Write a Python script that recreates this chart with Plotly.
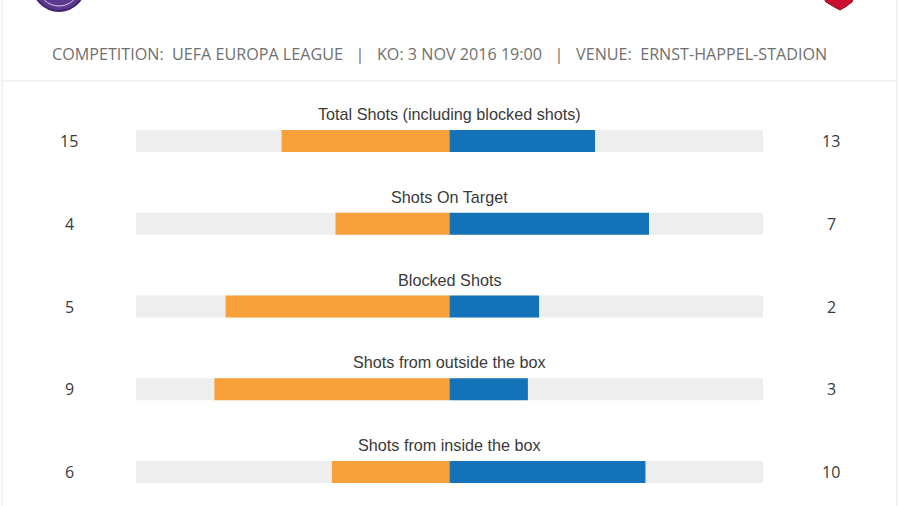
import plotly.graph_objects as go

categories = ["Total Shots (including blocked shots)", "Shots On Target", "Blocked Shots",
              "Shots from outside the box", "Shots from inside the box"]
home_values = [15, 4, 5, 9, 6]
away_values = [13, 7, 2, 3, 10]
header_text = "COMPETITION:  UEFA EUROPA LEAGUE   |   KO: 3 NOV 2016 19:00   |   VENUE:  ERNST-HAPPEL-STADION"

W, H = 900, 506
ORANGE = "#F8A13B"
BLUE = "#1472B9"
GREY = "#EEEEEE"

rows = list(range(len(categories)))
home_frac = [-h / (h + a) for h, a in zip(home_values, away_values)]
away_frac = [a / (h + a) for h, a in zip(home_values, away_values)]

# pixel geometry
row0_px, row_step = 141, 82.75
r_top = -row0_px / row_step
r_bot = (H - row0_px) / row_step
bar_w = 22 / row_step
label_off = 27 / row_step

fig = go.Figure()
fig.add_trace(go.Bar(y=rows, x=[2] * len(rows), base=[-1] * len(rows), orientation="h",
                     marker=dict(color=GREY, line=dict(width=0)), width=bar_w, hoverinfo="skip"))
fig.add_trace(go.Bar(y=rows, x=home_frac, base=[0] * len(rows), orientation="h",
                     marker=dict(color=ORANGE, line=dict(width=0)), width=bar_w, hoverinfo="skip"))
fig.add_trace(go.Bar(y=rows, x=away_frac, base=[0] * len(rows), orientation="h",
                     marker=dict(color=BLUE, line=dict(width=0)), width=bar_w, hoverinfo="skip"))

annotations = []
for r, cat, h, a in zip(rows, categories, home_values, away_values):
    annotations.append(dict(x=0, y=r - label_off, xref="x", yref="y", text=cat, showarrow=False,
                            font=dict(family="Liberation Sans, Arial", size=16.2, color="#3A3A3A"),
                            xanchor="center", yanchor="middle"))
    annotations.append(dict(x=69 / W, y=r, xref="paper", yref="y", text=str(h), showarrow=False,
                            font=dict(family="Open Sans", size=16, color="#3A3A3A"),
                            xanchor="center", yanchor="middle"))
    annotations.append(dict(x=831 / W, y=r, xref="paper", yref="y", text=str(a), showarrow=False,
                            font=dict(family="Open Sans", size=16, color="#3A3A3A"),
                            xanchor="center", yanchor="middle"))
annotations.append(dict(x=0.5 - 11 / W, y=1 - 54 / H, xref="paper", yref="paper", text=header_text,
                        showarrow=False, font=dict(family="Open Sans", size=16.15, color="#707070"),
                        xanchor="center", yanchor="middle"))

shapes = [
    dict(type="line", xref="paper", yref="paper", x0=2 / W, x1=897 / W, y0=1 - 81 / H, y1=1 - 81 / H,
         line=dict(color="#E6E6E6", width=1)),
    dict(type="line", xref="paper", yref="paper", x0=2 / W, x1=2 / W, y0=0, y1=1,
         line=dict(color="#E6E6E6", width=1)),
    dict(type="line", xref="paper", yref="paper", x0=897 / W, x1=897 / W, y0=0, y1=1,
         line=dict(color="#E6E6E6", width=1)),
    # home crest (partially cut)
    dict(type="circle", xref="paper", yref="paper", x0=33 / W, x1=85 / W, y0=1 - 11 / H, y1=1 + 41 / H,
         fillcolor="#5B3A8E", line=dict(color="#3E2470", width=2)),
    dict(type="circle", xref="paper", yref="paper", x0=38 / W, x1=80 / W, y0=1 - 6 / H, y1=1 + 36 / H,
         fillcolor="rgba(0,0,0,0)", line=dict(color="#D8CCEA", width=1)),
    # away crest (partially cut)
    dict(type="path", xref="paper", yref="paper",
         path=f"M {822/W} {1+5/H} L {855/W} {1+5/H} L {852/W} {1-2/H} Q {846/W} {1-7/H} {840/W} {1-10/H} Q {834/W} {1-7/H} {826/W} {1-2/H} Z",
         fillcolor="#C8102E", line=dict(color="#8A0A1E", width=1)),
]

fig.update_layout(
    width=W, height=H, margin=dict(l=0, r=0, t=0, b=0),
    paper_bgcolor="white", plot_bgcolor="white",
    barmode="overlay", showlegend=False,
    xaxis=dict(domain=[136 / W, 763 / W], range=[-1, 1], visible=False, fixedrange=True),
    yaxis=dict(domain=[0, 1], range=[r_bot, r_top], visible=False, fixedrange=True),
    annotations=annotations, shapes=shapes,
)
fig.write_html("out.html")
